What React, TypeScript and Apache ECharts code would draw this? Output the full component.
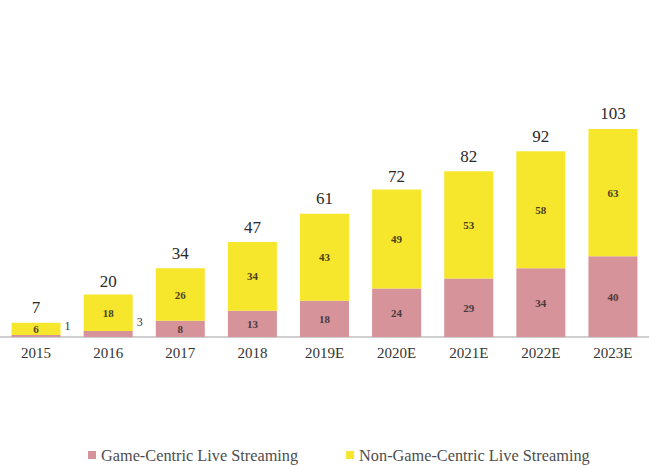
import React, { useEffect, useRef } from "react";
import * as echarts from "echarts";

const CATEGORIES = ["2015", "2016", "2017", "2018", "2019E", "2020E", "2021E", "2022E", "2023E"];
const GAME_CENTRIC = [1, 3, 8, 13, 18, 24, 29, 34, 40];
const NON_GAME_CENTRIC = [6, 18, 26, 34, 43, 49, 53, 58, 63];
const TOTALS = [7, 20, 34, 47, 61, 72, 82, 92, 103];
const OUTSIDE_LABEL_YEARS = ["2015", "2016"];

const SERIF = "Liberation Serif";
const PINK = "#d6939a";
const YELLOW = "#f6e62c";

export default function App() {
  const ref = useRef<HTMLDivElement>(null);
  useEffect(() => {
    if (!ref.current) return;
    const chart = echarts.init(ref.current, undefined, { renderer: "svg" });
    const gameData = GAME_CENTRIC.map((v, i) =>
      OUTSIDE_LABEL_YEARS.includes(CATEGORIES[i])
        ? {
            value: v,
            label: {
              show: true,
              position: [53, -15],
              fontSize: 12,
              fontWeight: "normal",
              color: "#333",
            },
          }
        : { value: v }
    );
    chart.setOption({
      animation: false,
      backgroundColor: "#ffffff",
      grid: { left: -4, right: -9, top: 94.6, bottom: 131, containLabel: false },
      legend: {
        bottom: 0,
        left: 83,
        itemWidth: 8,
        itemHeight: 8,
        itemGap: 48,
        icon: "rect",
        textStyle: { fontFamily: SERIF, fontSize: 16.3, color: "#4d4d4d" },
        data: ["Game-Centric Live Streaming", "Non-Game-Centric Live Streaming"],
      },
      xAxis: {
        type: "category",
        data: CATEGORIES,
        axisLine: { lineStyle: { color: "#cfcfcf", width: 2 } },
        axisTick: { show: false },
        axisLabel: { margin: 8, fontFamily: SERIF, fontSize: 15, color: "#333" },
      },
      yAxis: { type: "value", min: 0, max: 120, show: false, splitLine: { show: false } },
      series: [
        {
          name: "Game-Centric Live Streaming",
          type: "bar",
          stack: "total",
          barWidth: 49,
          itemStyle: { color: PINK },
          label: {
            show: true,
            position: "inside",
            fontFamily: SERIF,
            fontSize: 11,
            fontWeight: "bold",
            color: "#4a3a3a",
          },
          data: gameData,
        },
        {
          name: "Non-Game-Centric Live Streaming",
          type: "bar",
          stack: "total",
          barWidth: 49,
          itemStyle: { color: YELLOW },
          label: {
            show: true,
            position: "inside",
            fontFamily: SERIF,
            fontSize: 11,
            fontWeight: "bold",
            color: "#4a4020",
          },
          data: NON_GAME_CENTRIC,
        },
        {
          name: "Total",
          type: "line",
          data: TOTALS,
          symbol: "circle",
          symbolSize: 1,
          itemStyle: { color: "rgba(0,0,0,0)" },
          lineStyle: { opacity: 0 },
          silent: true,
          label: {
            show: true,
            position: "top",
            distance: 6,
            fontFamily: SERIF,
            fontSize: 17,
            color: "#2a2a2a",
          },
        },
      ],
    });
    return () => chart.dispose();
  }, []);
  return (
    <div
      ref={ref}
      style={{ position: "absolute", left: 0, top: 0, width: 649, height: 468 }}
    />
  );
}
